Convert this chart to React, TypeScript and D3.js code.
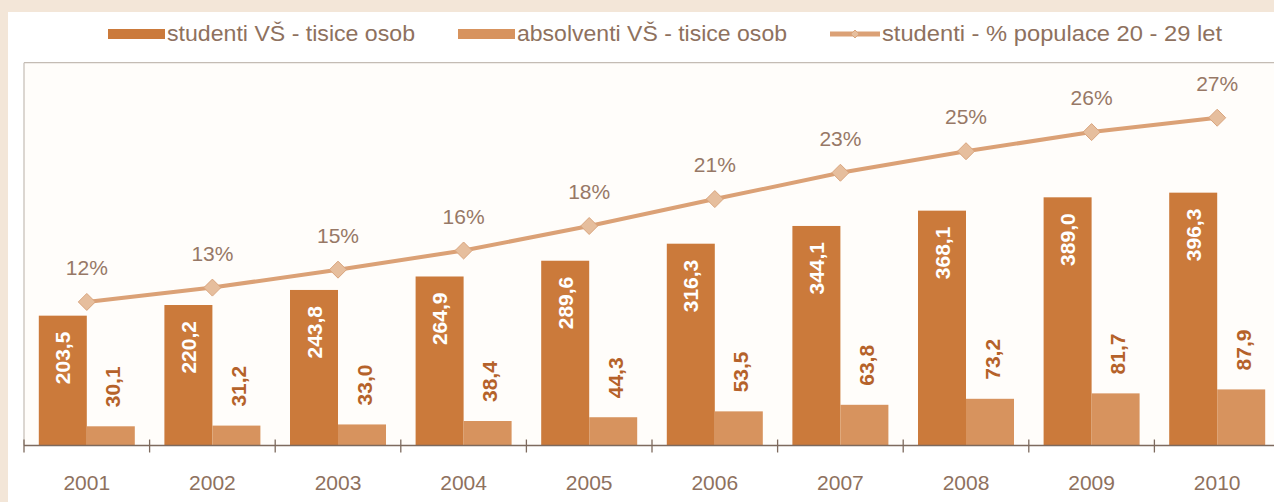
import React from "react";
import * as d3 from "d3";

const years = ["2001", "2002", "2003", "2004", "2005", "2006", "2007", "2008", "2009", "2010"];
const students = [203.5, 220.2, 243.8, 264.9, 289.6, 316.3, 344.1, 368.1, 389.0, 396.3];
const graduates = [30.1, 31.2, 33.0, 38.4, 44.3, 53.5, 63.8, 73.2, 81.7, 87.9];
const sharePct = [12.0, 13.2, 14.7, 16.3, 18.35, 20.6, 22.8, 24.6, 26.2, 27.4];
const legendLabels = ["studenti VŠ - tisice osob", "absolventi VŠ - tisice osob", "studenti - % populace 20 - 29 let"];

const W = 1274;
const H = 502;
const FONT = "'Liberation Sans', Arial, sans-serif";
const C_STUD = "#CB7A3B";
const C_ABS = "#D7935E";
const C_LINE = "#DBA176";
const C_DIAM = "#E6BE9D";
const C_TEXT = "#8E715E";

export default function App() {
  const left = 24;
  const right = 1280;
  const top = 62.7;
  const base = 445.5;

  const x = d3.scaleBand<string>().domain(years).range([left, right]).paddingInner(0).paddingOuter(0);
  const bw = x.bandwidth();
  const sub = d3.scaleBand<string>().domain(["s", "a"]).range([bw / 2 - 48, bw / 2 + 48]).padding(0);
  const y = d3.scaleLinear().domain([0, 600]).range([base, top]);
  const yp = d3.scaleLinear().domain([0, 32]).range([base, top]);

  const cx = (i: number) => (x(years[i]) as number) + bw / 2;
  const line = d3
    .line<number>()
    .x((_, i) => cx(i))
    .y((d) => yp(d));

  const diamond = (px: number, py: number, r: number) =>
    `M${px},${py - r}L${px + r},${py}L${px},${py + r}L${px - r},${py}Z`;

  const tickXs = d3.range(years.length + 1).map((i) => left + i * bw);

  return (
    <svg
      width={W}
      height={H}
      style={{ position: "absolute", left: 0, top: 0, display: "block" }}
      fontFamily={FONT}
    >
      <rect x={0} y={0} width={W} height={H} fill="#F3E6D8" />
      <rect x={8} y={12} width={W - 8} height={H - 12} fill="#FFFFFF" />
      <rect x={left} y={top} width={W - left} height={base - top} fill="#FFFDFA" />

      {/* legend */}
      <g>
        <rect x={108} y={29} width={57} height={10} fill={C_STUD} />
        <text x={167} y={41} fontSize={22} fill={C_TEXT} textLength={248} lengthAdjust="spacingAndGlyphs">
          {legendLabels[0]}
        </text>
        <rect x={458} y={29} width={57} height={10} fill={C_ABS} />
        <text x={517} y={41} fontSize={22} fill={C_TEXT} textLength={270} lengthAdjust="spacingAndGlyphs">
          {legendLabels[1]}
        </text>
        <line x1={830} x2={880} y1={34} y2={34} stroke={C_LINE} strokeWidth={5} />
        <path d={diamond(855, 34, 4)} fill={C_DIAM} stroke="#D9A57E" strokeWidth={1} />
        <text x={882} y={41} fontSize={22} fill={C_TEXT} textLength={340} lengthAdjust="spacingAndGlyphs">
          {legendLabels[2]}
        </text>
      </g>

      {/* frame */}
      <line x1={left} x2={W} y1={top} y2={top} stroke="#C4BCB4" strokeWidth={1.2} />
      <line x1={left} x2={left} y1={top} y2={base} stroke="#C4BCB4" strokeWidth={1.2} />

      {/* bars */}
      {years.map((yr, i) => {
        const x0 = x(yr) as number;
        const sx = x0 + (sub("s") as number);
        const ax = x0 + (sub("a") as number);
        const w = sub.bandwidth();
        return (
          <g key={yr}>
            <rect x={sx} y={y(students[i])} width={w} height={base - y(students[i])} fill={C_STUD} />
            <rect x={ax} y={y(graduates[i])} width={w} height={base - y(graduates[i])} fill={C_ABS} />
            <text
              transform={`translate(${sx + w / 2},${y(students[i]) + 16}) rotate(-90)`}
              textAnchor="end"
              dominantBaseline="central"
              fontSize={21}
              fontWeight="bold"
              fill="#FFFFFF"
            >
              {students[i].toFixed(1).replace(".", ",")}
            </text>
            <text
              transform={`translate(${ax + w / 2 + 2},${y(graduates[i]) - 19}) rotate(-90)`}
              textAnchor="start"
              dominantBaseline="central"
              fontSize={21}
              fontWeight="bold"
              fill="#B5622A"
            >
              {graduates[i].toFixed(1).replace(".", ",")}
            </text>
          </g>
        );
      })}

      {/* axis */}
      <line x1={left} x2={W} y1={base} y2={base} stroke="#7D6A5E" strokeWidth={1.5} />
      {tickXs.map((tx, i) => (
        <line key={i} x1={tx} x2={tx} y1={base - 6} y2={base + 7} stroke="#7D6A5E" strokeWidth={1.3} />
      ))}
      {years.map((yr, i) => (
        <text key={yr} x={cx(i)} y={490} textAnchor="middle" fontSize={21} fill={C_TEXT}>
          {yr}
        </text>
      ))}

      {/* line */}
      <path d={line(sharePct) || ""} fill="none" stroke={C_LINE} strokeWidth={4} />
      {sharePct.map((v, i) => (
        <g key={i}>
          <path d={diamond(cx(i), yp(v), 8.5)} fill={C_DIAM} stroke="#D9A57E" strokeWidth={1} />
          <text x={cx(i)} y={yp(v) - 27} textAnchor="middle" fontSize={21} fill="#977866">
            {Math.round(v)}%
          </text>
        </g>
      ))}
    </svg>
  );
}
